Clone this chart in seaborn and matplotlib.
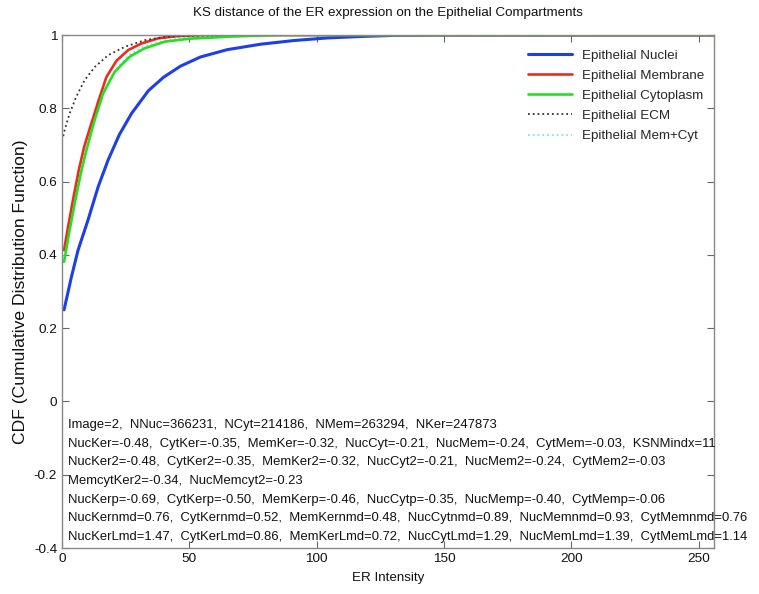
import matplotlib
matplotlib.use("Agg")
import numpy as np
import pandas as pd
import seaborn as sns
import matplotlib.pyplot as plt

# CDF curves (ER intensity vs cumulative fraction)
nuc_x = [0.8, 3.7, 6.3, 10.2, 14.2, 18.1, 22.5, 27.3, 33.9, 39.9, 46.5, 54.3, 64.8, 78, 91, 104, 117, 130, 145, 256]
nuc_y = [0.25, 0.34, 0.413, 0.495, 0.586, 0.659, 0.728, 0.786, 0.848, 0.885, 0.915, 0.94, 0.96, 0.975, 0.985, 0.992, 0.996, 0.999, 1.0, 1.0]

mem_x = [0.8, 2.4, 4.3, 6.6, 8.7, 10.9, 12.5, 14.2, 17.4, 21.4, 26, 31.2, 37.8, 45, 55, 256]
mem_y = [0.413, 0.477, 0.55, 0.632, 0.695, 0.745, 0.78, 0.818, 0.885, 0.93, 0.959, 0.977, 0.991, 0.997, 1.0, 1.0]

cyt_x = [0.8, 3, 5, 7.4, 9.6, 11.5, 12.9, 16.1, 20.7, 26.6, 32.5, 40.4, 50, 67, 85, 256]
cyt_y = [0.381, 0.468, 0.541, 0.623, 0.686, 0.735, 0.77, 0.84, 0.9, 0.941, 0.964, 0.982, 0.99, 0.996, 1.0, 1.0]

ecm_x = [0.5, 1.05, 3, 5.6, 8.9, 12.9, 18.1, 24.7, 32.5, 40.4, 50, 65, 256]
ecm_y = [0.724, 0.741, 0.786, 0.832, 0.877, 0.913, 0.945, 0.968, 0.986, 0.995, 0.998, 1.0, 1.0]

memcyt_x = [0.8, 3, 5, 7.4, 9.6, 11.5, 14, 17, 21, 26, 32, 40, 50, 65, 256]
memcyt_y = [0.395, 0.475, 0.547, 0.628, 0.69, 0.74, 0.795, 0.855, 0.905, 0.945, 0.968, 0.985, 0.994, 0.999, 1.0]

labels = ["Epithelial Nuclei", "Epithelial Membrane", "Epithelial Cytoplasm",
          "Epithelial ECM", "Epithelial Mem+Cyt"]

info_lines = [
    "Image=2,  NNuc=366231,  NCyt=214186,  NMem=263294,  NKer=247873",
    "NucKer=-0.48,  CytKer=-0.35,  MemKer=-0.32,  NucCyt=-0.21,  NucMem=-0.24,  CytMem=-0.03,  KSNMindx=11",
    "NucKer2=-0.48,  CytKer2=-0.35,  MemKer2=-0.32,  NucCyt2=-0.21,  NucMem2=-0.24,  CytMem2=-0.03",
    "MemcytKer2=-0.34,  NucMemcyt2=-0.23",
    "NucKerp=-0.69,  CytKerp=-0.50,  MemKerp=-0.46,  NucCytp=-0.35,  NucMemp=-0.40,  CytMemp=-0.06",
    "NucKernmd=0.76,  CytKernmd=0.52,  MemKernmd=0.48,  NucCytnmd=0.89,  NucMemnmd=0.93,  CytMemnmd=0.76",
    "NucKerLmd=1.47,  CytKerLmd=0.86,  MemKerLmd=0.72,  NucCytLmd=1.29,  NucMemLmd=1.39,  CytMemLmd=1.14",
]

sns.set_style("ticks")
plt.rcParams['font.family'] = ['Liberation Sans', 'DejaVu Sans']
fs = 9.6

fig = plt.figure(figsize=(7.59, 5.94), dpi=100)
ax = fig.add_axes([0.0817, 0.0774, 0.859, 0.8636])

sns.lineplot(x=memcyt_x, y=memcyt_y, ax=ax, color="#7fe3f2", lw=1.3, ls=":", label=labels[4])
sns.lineplot(x=nuc_x, y=nuc_y, ax=ax, color="#1f3fe6", lw=2.2, label=labels[0])
sns.lineplot(x=mem_x, y=mem_y, ax=ax, color="#ee2a1c", lw=1.9, label=labels[1])
sns.lineplot(x=cyt_x, y=cyt_y, ax=ax, color="#22e022", lw=1.9, label=labels[2])
sns.lineplot(x=ecm_x, y=ecm_y, ax=ax, color="#333333", lw=1.3, ls=":", label=labels[3])

ax.set_xlim(0, 256)
ax.set_ylim(-0.4, 1)
ax.set_xticks([0, 50, 100, 150, 200, 250])
ax.set_yticks([-0.4, -0.2, 0, 0.2, 0.4, 0.6, 0.8, 1])
ax.set_yticklabels(["-0.4", "-0.2", "0", "0.2", "0.4", "0.6", "0.8", "1"])
ax.tick_params(direction="in", top=True, right=True, length=5, color="#666666",
               labelsize=9.7, labelcolor="#111111")
for s in ax.spines.values():
    s.set_color("#888888")
    s.set_linewidth(1.0)

ax.set_title("KS distance of the ER expression on the Epithelial Compartments",
             fontsize=fs, color="#111111", pad=14)
ax.set_xlabel("ER Intensity", fontsize=fs, color="#111111", labelpad=5)
ax.set_ylabel("CDF (Cumulative Distribution Function)", fontsize=12.6, color="#111111", labelpad=4)

handles, labs = ax.get_legend_handles_labels()
order = [labs.index(l) for l in labels]
ax.legend([handles[i] for i in order], [labs[i] for i in order],
          loc="upper left", bbox_to_anchor=(0.696, 0.995), frameon=False,
          fontsize=fs, handlelength=3.35, labelspacing=0.58, handletextpad=0.7)

for i, line in enumerate(info_lines):
    ax.text(2.4, -0.064 - i * 0.051, line, fontsize=9.4, color="#111111",
            va="center", ha="left", clip_on=False)

fig.savefig("out.png", dpi=100)
